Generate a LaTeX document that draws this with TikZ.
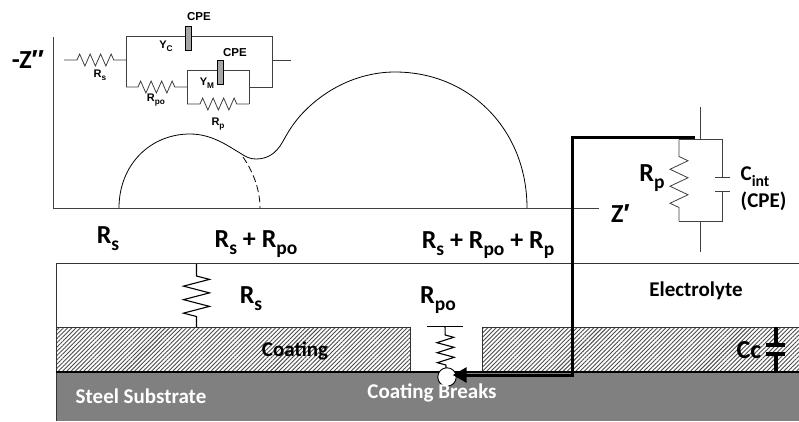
\documentclass[tikz,border=0pt]{standalone}
\usepackage{fontspec}
\setmainfont{Carlito}
\newfontfamily\arl{Liberation Sans}
\usetikzlibrary{decorations.pathmorphing,patterns.meta,arrows.meta}
\newcommand\lowsub[1]{\raisebox{-.3em}{\scalebox{.75}{#1}}}
\newcommand\prm{{\arl\bfseries ′}}
\tikzset{
  x=1pt,y=-1pt,
  lbl/.style={font=\bfseries\fontsize{26}{28}\selectfont,inner sep=0pt,anchor=base},
  mid/.style={font=\bfseries\fontsize{21}{23}\selectfont,inner sep=0pt,anchor=base},
  wht/.style={font=\bfseries\fontsize{21}{23}\selectfont,text=white,inner sep=0pt,anchor=base},
  tiny/.style={font=\arl\bfseries\fontsize{11}{12}\selectfont,inner sep=0pt,anchor=base},
  wire/.style={draw=black!75,line width=.8pt},
  blk/.style={draw=black,line width=1.1pt},
  zz/.style={decorate,decoration={zigzag,segment length=#1,amplitude=5pt,pre length=1pt,post length=1pt}},
  zzv/.style={decorate,decoration={zigzag,segment length=#1,amplitude=8pt,pre length=2pt,post length=2pt}},
  hatch/.style={pattern={Lines[angle=45,distance=3pt,line width=.9pt]},pattern color=black!70},
  cpe/.style={draw=black,fill=black!35,line width=.8pt,minimum width=6pt,minimum height=24pt,inner sep=0pt},
}
\begin{document}
\begin{tikzpicture}
\useasboundingbox (0,0) rectangle (799,421);
% layers
\fill[white] (0,0) rectangle (799,421);
\fill[black!50] (56,372) rectangle (799,421);
\fill[white] (56,327) rectangle (410,372);
\fill[white] (482,327) rectangle (799,372);
\path[hatch] (56,327) rectangle (410,372);
\path[hatch] (482,327) rectangle (799,372);
\draw[draw=black!80,line width=1pt] (799,263.5) -- (56,263.5) -- (56,421);
\draw[draw=black!80,line width=.7pt] (56,327) -- (410,327) -- (410,372);
\draw[draw=black!80,line width=.7pt] (799,327) -- (482,327) -- (482,372);
\draw[black,line width=1.2pt] (56,372) -- (799,372);
% axes
\coordinate (ot) at (53,37); \coordinate (o) at (53,208); \coordinate (xe) at (599,208);
\draw[draw=black!75,line width=1pt] (ot) -- (o) -- (xe);
% curve
\draw[black,line width=.8pt] (119,208) .. controls (119,165) and (150,134) .. (190,134)
  .. controls (212,134) and (228,146) .. (240,153)
  .. controls (246,157) and (250,159) .. (256,159)
  .. controls (268,159) and (276,153) .. (282,143)
  .. controls (288,132) and (293,124) .. (300,116)
  .. controls (325,88) and (360,72) .. (395,72)
  .. controls (470,72) and (527,130) .. (527,208);
\draw[black,line width=.8pt,dash pattern=on 7pt off 3.5pt] (243,157) .. controls (252,170) and (260,188) .. (260,208);
% inset circuit
\coordinate (a0) at (64,60); \coordinate (a1) at (126,60);
\coordinate (tl) at (126,36); \coordinate (tr) at (272,36); \coordinate (br) at (272,87); \coordinate (bl) at (126,87);
\coordinate (out) at (291,60); \coordinate (rr) at (272,60);
\coordinate (bxl) at (187,87); \coordinate (bxr) at (249,87);
\coordinate (b1) at (187,70); \coordinate (b2) at (249,70); \coordinate (b3) at (249,104); \coordinate (b4) at (187,104);
\draw[wire,zz=10.5pt,decoration={amplitude=6pt,pre length=13pt,post length=8pt}] (a0) -- (a1);
\draw[wire] (bl) -- (tl) -- (tr) -- (br) -- (bxr);
\draw[wire] (rr) -- (out);
\draw[wire,zz=10.5pt,decoration={amplitude=6pt,pre length=12pt,post length=9pt}] (bl) -- (bxl);
\draw[wire] (b4) -- (b1) -- (b2) -- (b3);
\draw[wire,zz=10.5pt,decoration={amplitude=6pt,pre length=13pt,post length=9pt}] (b4) -- (b3);
\node[cpe] (c1) at (188,38) {};
\node[cpe] (c2) at (220,72) {};
\node[tiny,font=\arl\bfseries\fontsize{11.5}{12}\selectfont] (t1) at (199,20) {CPE};
\node[tiny,font=\arl\bfseries\fontsize{11.5}{12}\selectfont] (t2) at (235,56) {CPE};
\node[tiny] (t3) at (166,48) {Y\lowsub{C}};
\node[tiny] (t4) at (207,85) {Y\lowsub{M}};
\node[tiny] (t5) at (100,77) {R\lowsub{s}};
\node[tiny] (t6) at (156,101) {R\lowsub{po}};
\node[tiny] (t7) at (218,125) {R\lowsub{p}};
% Rs in electrolyte
\coordinate (r1) at (196.5,264); \coordinate (r2) at (196.5,327);
\draw[blk,zzv=13.5pt,decoration={amplitude=13pt,pre length=12pt,post length=10pt}] (r1) -- (r2);
% Rpo
\coordinate (p0) at (427,326); \coordinate (p1) at (463,326); \coordinate (p2) at (445,326);
\coordinate (p3) at (446,368);
\draw[black,line width=.8pt] (p0) -- (p1);
\draw[blk,zzv=10pt,decoration={amplitude=8.5pt,pre length=9pt,post length=1.5pt}] (p2) -- (p3);
% thick path
\node[circle,draw=black,fill=white,line width=.9pt,minimum size=18.5pt,inner sep=0pt] (brk) at (447,377) {};
\coordinate (th0) at (695,137); \coordinate (th1) at (572,137); \coordinate (th2) at (572,375);
\draw[black,line width=3pt,line join=miter,shorten >=-4pt,-{Triangle[length=14pt,width=15pt]}] (th0) -- (th1) -- (th2) -- (brk.east |- th2);
% Rp / Cint
\coordinate (e0) at (700,107); \coordinate (e1) at (700,139.5); \coordinate (e2) at (679,139.5); \coordinate (e3) at (722,139.5);
\coordinate (e4) at (679,221); \coordinate (e5) at (722,221); \coordinate (e6) at (700,221); \coordinate (e7) at (700,252);
\coordinate (cu) at (722,177); \coordinate (cd) at (722,191.5);
\draw[wire] (e0) -- (e1);
\draw[wire] (e6) -- (e7);
\draw[wire] (e2) -- (e3) -- (cu);
\draw[wire] (cd) -- (e5) -- (e4);
\draw[wire,zzv=17pt,decoration={amplitude=9pt,pre length=17pt,post length=13pt}] (e2) -- (e4);
\draw[wire] (715,177) -- (730,177);
\draw[wire] (715,191.5) -- (730,191.5);
% Cc
\coordinate (cc0) at (776,327); \coordinate (cc1) at (776,345); \coordinate (cc2) at (776,354); \coordinate (cc3) at (776,373);
\draw[black,line width=4.5pt] (cc0) -- (cc1);
\draw[black,line width=4.5pt] (cc2) -- (cc3);
\draw[black,line width=4pt] (766,345) -- (785,345);
\draw[black,line width=4pt] (766,354) -- (785,354);
% labels
\node[lbl] (l1) at (28,68) {-Z\prm\prm};
\node[lbl] (l2) at (620.5,222) {Z\prm};
\node[lbl] (l3) at (108,243) {R\lowsub{s}};
\node[lbl] (l4) at (256,247) {R\lowsub{s} + R\lowsub{po}};
\node[lbl] (l5) at (488,248) {R\lowsub{s} + R\lowsub{po} + R\lowsub{p}};
\node[lbl] (l6) at (251,303) {R\lowsub{s}};
\node[lbl] (l7) at (438,303) {R\lowsub{po}};
\node[mid] (l8) at (696,296) {Electrolyte};
\node[mid] (l9) at (295,356) {Coating};
\node[lbl] (l10) at (749,358) {Cc};
\node[lbl] (l11) at (652,181) {R\lowsub{p}};
\node[mid] (l12) at (755,180) {C\lowsub{int}};
\node[mid] (l13) at (763.5,207) {(CPE)};
\node[wht] (l14) at (141,403) {Steel Substrate};
\node[wht] (l15) at (432,398) {Coating Breaks};
\end{tikzpicture}
\end{document}
